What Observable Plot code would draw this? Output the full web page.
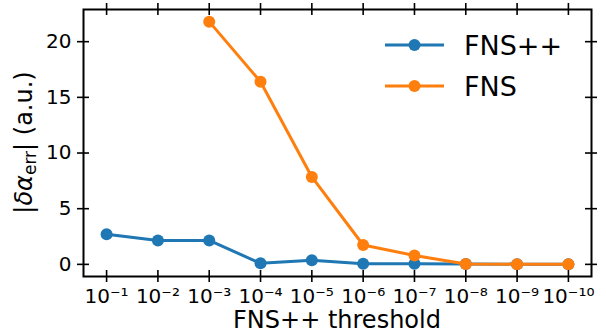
<!DOCTYPE html>
<html>
<head>
<meta charset="utf-8">
<script src="https://cdn.jsdelivr.net/npm/d3@7"></script>
<script src="https://cdn.jsdelivr.net/npm/@observablehq/plot@0.6"></script>
<style>
  body { margin: 0; background: #fff; }
  #chart svg { display: block; font-family: 'DejaVu Sans', sans-serif; }
</style>
</head>
<body>
<div id="chart"></div>
<script>
// Error of the recovered parameter versus the FNS++ stopping threshold
const thresholds = [1e-1, 1e-2, 1e-3, 1e-4, 1e-5, 1e-6, 1e-7, 1e-8, 1e-9, 1e-10];
const fnsPlusPlus = [2.7, 2.15, 2.15, 0.09, 0.38, 0.06, 0.06, 0.03, 0.02, 0.02];
const fns = [null, null, 21.8, 16.4, 7.85, 1.74, 0.8, 0.03, 0.02, 0.01];
const yTicks = [0, 5, 10, 15, 20];
const seriesNames = ["FNS++", "FNS"];
const seriesColors = ["#1f77b4", "#ff7f0e"];
const xLabel = "FNS++ threshold";

const W = 606, H = 334;
const M = {top: 9, right: 15, bottom: 58, left: 83};
const innerW = W - M.left - M.right;
const innerH = H - M.top - M.bottom;
const TICK = 6; // half-length of the in/out tick marks

const SUP = {"-": "\u207B", "0": "\u2070", "1": "\u00B9", "2": "\u00B2", "3": "\u00B3",
  "4": "\u2074", "5": "\u2075", "6": "\u2076", "7": "\u2077", "8": "\u2078", "9": "\u2079"};
const powerLabel = d => "10" + String(Math.round(Math.log10(d)))
  .split("").map(c => SUP[c]).join("");

const rows = thresholds.map((t, i) => ({t, a: fnsPlusPlus[i], b: fns[i]}));

const tickStyle = {stroke: "black", strokeWidth: 1.6};

const chart = Plot.plot({
  width: W,
  height: H,
  marginTop: M.top,
  marginRight: M.right,
  marginBottom: M.bottom,
  marginLeft: M.left,
  style: {fontFamily: "'DejaVu Sans', sans-serif", fontSize: "20px"},
  x: {type: "log", domain: [Math.pow(10, -0.55), Math.pow(10, -10.45)]},
  y: {domain: [-1.09, 22.89]},
  marks: [
    // series
    Plot.line(rows, {x: "t", y: "a", stroke: seriesColors[0], strokeWidth: 3}),
    Plot.dot(rows, {x: "t", y: "a", r: 6, fill: seriesColors[0], stroke: "none"}),
    Plot.line(rows, {x: "t", y: "b", stroke: seriesColors[1], strokeWidth: 3}),
    Plot.dot(rows, {x: "t", y: "b", r: 6, fill: seriesColors[1], stroke: "none"}),
    // tick marks crossing all four sides of the frame
    Plot.ruleX(thresholds, {x: d => d, insetTop: innerH - TICK, insetBottom: -TICK, ...tickStyle}),
    Plot.ruleX(thresholds, {x: d => d, insetTop: -TICK, insetBottom: innerH - TICK, ...tickStyle}),
    Plot.ruleY(yTicks, {y: d => d, insetLeft: -TICK, insetRight: innerW - TICK, ...tickStyle}),
    Plot.ruleY(yTicks, {y: d => d, insetLeft: innerW - TICK, insetRight: -TICK, ...tickStyle}),
    // tick labels
    Plot.axisX({ticks: thresholds, tickFormat: powerLabel, tickSize: 0, tickPadding: 12,
      label: null, fontSize: 20}),
    Plot.axisY({ticks: yTicks, tickSize: 0, tickPadding: 12, label: null, fontSize: 20}),
    Plot.frame({stroke: "black", strokeWidth: 2})
  ]
});

document.getElementById("chart").appendChild(chart);
const svg = d3.select(chart);

// x axis title
svg.append("text")
  .attr("x", M.left + innerW / 2).attr("y", 328)
  .attr("text-anchor", "middle").attr("font-size", 24).attr("fill", "black")
  .text(xLabel);

// y axis title: |δα_err| (a.u.)
const yl = svg.append("text")
  .attr("transform", `translate(32,${M.top + innerH / 2}) rotate(-90)`)
  .attr("text-anchor", "middle").attr("font-size", 24).attr("fill", "black");
yl.append("tspan").text("|");
yl.append("tspan").attr("font-style", "italic").text("\u03B4\u03B1");
yl.append("tspan").attr("font-size", 17).attr("dy", 4).text("err");
yl.append("tspan").attr("dy", -4).text("| (a.u.)");

// legend
const legend = svg.append("g");
seriesNames.forEach((name, i) => {
  const cy = 45 + i * 41;
  legend.append("line").attr("x1", 385).attr("x2", 444).attr("y1", cy).attr("y2", cy)
    .attr("stroke", seriesColors[i]).attr("stroke-width", 3);
  legend.append("circle").attr("cx", 414.5).attr("cy", cy).attr("r", 6).attr("fill", seriesColors[i]);
  legend.append("text").attr("x", 464).attr("y", cy + 10).attr("text-anchor", "start")
    .attr("font-size", 27).attr("fill", "black").text(name);
});
</script>
</body>
</html>
